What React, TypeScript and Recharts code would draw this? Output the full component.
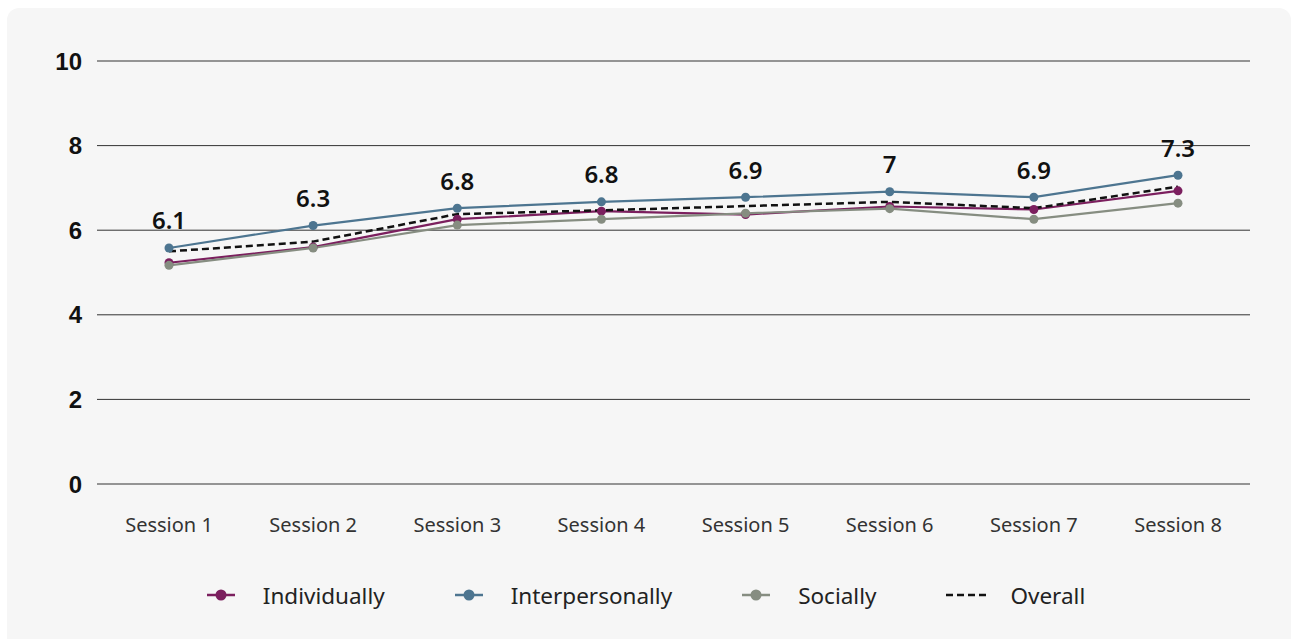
import React from "react";
import { CartesianGrid, ComposedChart, LabelList, Legend, Line, XAxis, YAxis } from "recharts";

// sessions along the x axis
const sessions = ["Session 1", "Session 2", "Session 3", "Session 4", "Session 5", "Session 6", "Session 7", "Session 8"];

// mean scores per dimension
const individually = [5.23, 5.6, 6.26, 6.45, 6.37, 6.56, 6.49, 6.93];
const interpersonally = [5.58, 6.11, 6.52, 6.67, 6.78, 6.91, 6.78, 7.3];
const socially = [5.17, 5.58, 6.12, 6.26, 6.4, 6.51, 6.26, 6.64];
const overall = [5.5, 5.73, 6.38, 6.47, 6.57, 6.67, 6.52, 7.03];

// figures printed above each session
const sessionLabels = ["6.1", "6.3", "6.8", "6.8", "6.9", "7", "6.9", "7.3"];

const yTicks = [0, 2, 4, 6, 8, 10];

const rows = sessions.map((s, i) => ({
  session: s,
  individually: individually[i],
  interpersonally: interpersonally[i],
  socially: socially[i],
  overall: overall[i],
}));

const COLORS = {
  individually: "#7b1f5e",
  interpersonally: "#4d7590",
  socially: "#868d81",
  overall: "#111111",
};

const legendItems = [
  { key: "individually", label: "Individually" },
  { key: "interpersonally", label: "Interpersonally" },
  { key: "socially", label: "Socially" },
  { key: "overall", label: "Overall" },
];

const FONT = "'Noto Sans', 'Open Sans', sans-serif";

function YTick(props: any) {
  const { x, y, payload } = props;
  return (
    <text
      x={x - 15}
      y={y}
      textAnchor="end"
      dominantBaseline="central"
      fontFamily="'Liberation Sans', Arial, sans-serif"
      fontWeight={700}
      fontSize={24}
      fill="#111"
    >
      {payload.value}
    </text>
  );
}

function XTick(props: any) {
  const { x, y, payload } = props;
  return (
    <text x={x} y={y + 40} textAnchor="middle" dominantBaseline="central" fontFamily={FONT} fontSize={20} fill="#333">
      {payload.value}
    </text>
  );
}

function SessionLabel(props: any) {
  const { x, y, index } = props;
  return (
    <text x={x} y={y - 28} textAnchor="middle" dominantBaseline="central" fontFamily={FONT} fontWeight={600} fontSize={24} fill="#111">
      {sessionLabels[index]}
    </text>
  );
}

function LegendRow() {
  return (
    <div
      style={{
        display: "flex",
        justifyContent: "center",
        alignItems: "center",
        height: 30,
        paddingLeft: 35,
        fontFamily: FONT,
        fontSize: 22.5,
        color: "#222",
      }}
    >
      {legendItems.map((it, i) => {
        const c = (COLORS as any)[it.key];
        const dashed = it.key === "overall";
        return (
          <div key={it.key} style={{ display: "flex", alignItems: "center", marginLeft: i === 0 ? 0 : 70 }}>
            <svg width={dashed ? 44 : 28} height={14} style={{ display: "block" }}>
              {dashed ? (
                <line x1={0} y1={7} x2={44} y2={7} stroke={c} strokeWidth={2.5} strokeDasharray="7 4" />
              ) : (
                <>
                  <line x1={0} y1={7} x2={28} y2={7} stroke={c} strokeWidth={2.5} />
                  <circle cx={14} cy={7} r={5.5} fill={c} />
                </>
              )}
            </svg>
            <span style={{ marginLeft: dashed ? 20 : 28 }}>{it.label}</span>
          </div>
        );
      })}
    </div>
  );
}

export default function App() {
  const dot = (color: string) => ({ r: 4.5, fill: color, stroke: color, strokeWidth: 0 });
  return (
    <div
      style={{
        position: "absolute",
        left: 7,
        top: 8,
        width: 1284,
        height: 631,
        background: "#f6f6f6",
        borderRadius: "12px 12px 0 0",
      }}
    >
      <ComposedChart width={1284} height={624} data={rows} margin={{ top: 53, right: 41, left: 0, bottom: 22 }}>
        <CartesianGrid vertical={false} stroke="#333" strokeWidth={1} />
        <XAxis
          dataKey="session"
          axisLine={false}
          tickLine={false}
          tickSize={0}
          tickMargin={0}
          height={96}
          tick={<XTick />}
          interval={0}
          padding={{ left: 72, right: 72 }}
        />
        <YAxis
          domain={[0, 10]}
          ticks={yTicks}
          axisLine={false}
          tickLine={false}
          tickSize={0}
          tickMargin={0}
          width={90}
          tick={<YTick />}
        />
        <Legend verticalAlign="bottom" content={() => <LegendRow />} />
        <Line
          dataKey="individually"
          stroke={COLORS.individually}
          strokeWidth={2.2}
          dot={dot(COLORS.individually)}
          activeDot={false}
          isAnimationActive={false}
        />
        <Line
          dataKey="interpersonally"
          stroke={COLORS.interpersonally}
          strokeWidth={2.2}
          dot={dot(COLORS.interpersonally)}
          activeDot={false}
          isAnimationActive={false}
        >
          <LabelList dataKey="interpersonally" content={<SessionLabel />} />
        </Line>
        <Line
          dataKey="socially"
          stroke={COLORS.socially}
          strokeWidth={2.2}
          dot={dot(COLORS.socially)}
          activeDot={false}
          isAnimationActive={false}
        />
        <Line
          dataKey="overall"
          stroke={COLORS.overall}
          strokeWidth={2.5}
          strokeDasharray="7 4"
          dot={false}
          activeDot={false}
          isAnimationActive={false}
        />
      </ComposedChart>
    </div>
  );
}
